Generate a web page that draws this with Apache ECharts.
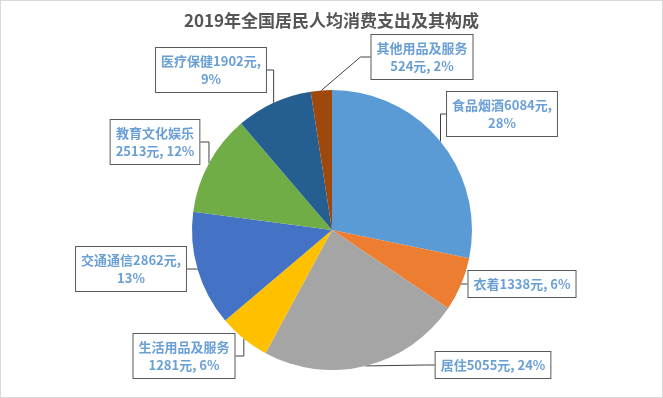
<!DOCTYPE html>
<html>
<head>
<meta charset="utf-8">
<script src="https://cdn.jsdelivr.net/npm/echarts@6/dist/echarts.min.js"></script>
<style>
  html, body { margin: 0; padding: 0; background: #fff; }
  #main { width: 661px; height: 396px; border: 1px solid #d9d9d9; }
</style>
</head>
<body>
<div id="main"></div>
<script>
// 2019年全国居民人均消费支出及其构成
const categories = ['食品烟酒', '衣着', '居住', '生活用品及服务', '交通通信', '教育文化娱乐', '医疗保健', '其他用品及服务'];
const values = [6084, 1338, 5055, 1281, 2862, 2513, 1902, 524];
const colors = ['#5b9bd5', '#ed7d31', '#a5a5a5', '#ffc000', '#4472c4', '#70ad47', '#255e91', '#9e480e'];

// where the line break goes in each callout: after value, after name, or none
const breaks = ['value', 'none', 'none', 'name', 'value', 'name', 'value', 'name'];
// callout box centres
const boxPos = [[501, 113], [521, 283], [492, 364], [183, 355], [130, 268], [154, 141], [210, 69], [421, 56]];

const myChart = echarts.init(document.getElementById('main'));

myChart.setOption({
  title: {
    text: '2019年全国居民人均消费支出及其构成',
    left: 'center',
    top: 6,
    textStyle: {
      fontFamily: 'Noto Sans CJK SC',
      fontSize: 17,
      fontWeight: 'bold',
      color: '#555'
    }
  },
  color: colors,
  series: [
    {
      type: 'pie',
      center: [331, 229],
      radius: 140,
      startAngle: 90,
      percentPrecision: 0,
      data: categories.map((c, i) => ({ name: c, value: values[i] })),
      label: {
        show: true,
        position: 'outside',
        backgroundColor: '#fff',
        borderColor: '#595959',
        borderWidth: 1,
        padding: [4, 5],
        rich: {
          t: {
            fontFamily: 'Noto Sans CJK SC',
            fontSize: 13,
            fontWeight: 'bold',
            lineHeight: 18,
            color: '#6a9fd6',
            align: 'center'
          }
        },
        formatter(p) {
          const b = breaks[p.dataIndex];
          const v = `${p.value}元,`;
          if (b === 'value') return `{t|${p.name}${v}}\n{t|${p.percent}%}`;
          if (b === 'name') return `{t|${p.name}}\n{t|${v} ${p.percent}%}`;
          return `{t|${p.name}${v} ${p.percent}%}`;
        }
      },
      labelLine: {
        show: true,
        length: 10,
        length2: 10,
        lineStyle: { color: '#404040', width: 1 }
      },
      labelLayout(params) {
        const pos = boxPos[params.dataIndex];
        return {
          x: pos[0],
          y: pos[1],
          align: 'center',
          verticalAlign: 'middle'
        };
      }
    }
  ]
});
</script>
</body>
</html>
